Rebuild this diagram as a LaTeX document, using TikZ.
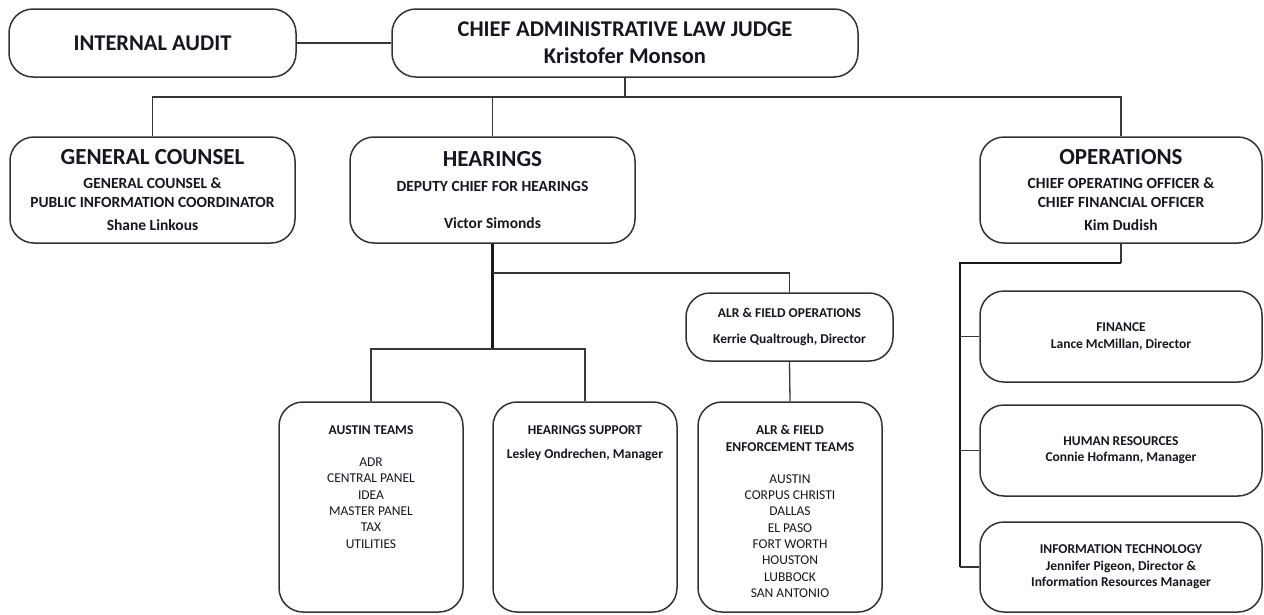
\documentclass[tikz,border=0pt]{standalone}
\usepackage{fontspec}
\setmainfont{Carlito}
\usepackage{tikz}
\usetikzlibrary{positioning, calc}
\definecolor{linegray}{RGB}{55,55,55}
\definecolor{boxgray}{RGB}{50,50,50}
\definecolor{inkblack}{RGB}{22,22,32}
\definecolor{listblue}{RGB}{58,60,92}
\newcommand{\headfont}{\fontsize{23}{28}\selectfont\bfseries}
\newcommand{\subfont}{\fontsize{15.5}{19}\selectfont\bfseries}
\newcommand{\smallbold}{\fontsize{13.5}{16.3}\selectfont\bfseries}
\newcommand{\listfont}{\fontsize{13.5}{16.3}\selectfont\color{listblue}}
\tikzset{
  pill/.style={draw=boxgray, line width=1.5pt, rounded corners=24pt, align=center,
    inner sep=0pt, text=inkblack},
  link/.style={draw=linegray, line width=1.3pt},
  trunk/.style={draw=black!90, line width=2.3pt},
  inside/.style={align=center, inner sep=0pt, text=inkblack, anchor=north}
}

\begin{document}
\begin{tikzpicture}[x=1pt, y=-1pt]
\useasboundingbox (0,0) rectangle (1264,614);

% top row
\node[pill, minimum width=287, minimum height=68, font=\fontsize{22.5}{27}\selectfont\bfseries]
  (audit) at (152.5,43) {INTERNAL AUDIT};
\node[pill, minimum width=466, minimum height=68, font=\fontsize{22.5}{27}\selectfont\bfseries]
  (calj) at (625,43) {CHIEF ADMINISTRATIVE LAW JUDGE\\ Kristofer Monson};

% divisions
\node[pill, minimum width=285, minimum height=106, font=\subfont] (gc) at (152.5,190)
  {{\headfont GENERAL COUNSEL}\\[5pt] GENERAL COUNSEL \&\\ PUBLIC INFORMATION COORDINATOR\\[4pt] Shane Linkous};
\node[pill, minimum width=285, minimum height=106, font=\subfont] (hear) at (492.5,190)
  {{\headfont HEARINGS}\\[6pt] DEPUTY CHIEF FOR HEARINGS\\[18pt] Victor Simonds};
\node[pill, minimum width=282, minimum height=106, font=\subfont] (ops) at (1121,190)
  {{\headfont OPERATIONS}\\[5pt] CHIEF OPERATING OFFICER \&\\ CHIEF FINANCIAL OFFICER\\[4pt] Kim Dudish};

% hearings units
\node[pill, minimum width=207, minimum height=68, font=\smallbold] (alr) at (789.5,327)
  {ALR \& FIELD OPERATIONS\\[9pt] Kerrie Qualtrough, Director};
\node[pill, minimum width=184, minimum height=210] (austin) at (371,507) {};
\node[pill, minimum width=184, minimum height=210] (hsup) at (585,507) {};
\node[pill, minimum width=184, minimum height=210] (alrt) at (790,507) {};
\node[inside, font=\listfont] (austinTxt) at ([yshift=-24pt]austin.north)
  {{\smallbold\color{inkblack} AUSTIN TEAMS}\\[16pt] ADR\\ CENTRAL PANEL\\ IDEA\\ MASTER PANEL\\ TAX\\ UTILITIES};
\node[inside, font=\smallbold] (hsupTxt) at ([yshift=-24pt]hsup.north)
  {HEARINGS SUPPORT\\[8pt] Lesley Ondrechen, Manager};
\node[inside, font=\listfont] (alrtTxt) at ([yshift=-24pt]alrt.north)
  {{\smallbold\color{inkblack} ALR \& FIELD}\\ {\smallbold\color{inkblack} ENFORCEMENT TEAMS}\\[16pt]
   AUSTIN\\ CORPUS CHRISTI\\ DALLAS\\ EL PASO\\ FORT WORTH\\ HOUSTON\\ LUBBOCK\\ SAN ANTONIO};

% operations units
\node[pill, minimum width=282, minimum height=91, font=\smallbold] (fin) at (1121,336.5)
  {FINANCE\\ Lance McMillan, Director};
\node[pill, minimum width=282, minimum height=91, font=\smallbold] (hr) at (1121,450.5)
  {HUMAN RESOURCES\\ Connie Hofmann, Manager};
\node[pill, minimum width=282, minimum height=90, font=\smallbold] (it) at (1121,567)
  {INFORMATION TECHNOLOGY\\ Jennifer Pigeon, Director \&\\ Information Resources Manager};

% connectors
\coordinate (topbus) at (625,97);
\coordinate (alrjoin) at (492.5,273);
\coordinate (hbus) at (492.5,349);
\coordinate (opsturn) at (960,263);
\draw[link] (audit) -- (calj);
\draw[link] (calj.south) -- (topbus);
\draw[link] (gc.north) |- (topbus);
\draw[link] (ops.north) |- (topbus);
\draw[link] (hear.north) -- (hear.north |- topbus);
\draw[trunk] (hear.south) -- (hbus);
\draw[link] (alr.north) |- (alrjoin);
\draw[link] (austin.north) |- (hbus);
\draw[link] (hsup.north) |- (hbus);
\draw[link] (alr.south) -- (alrt.north);
\draw[link] (ops.south) -- (ops.south |- opsturn);
\draw[trunk] (ops.south |- opsturn) -- (opsturn) -- (opsturn |- it.west);
\draw[link] (fin.west) -- (fin.west -| opsturn);
\draw[link] (hr.west) -- (hr.west -| opsturn);
\draw[link] (it.west) -- (it.west -| opsturn);
\end{tikzpicture}
\end{document}
